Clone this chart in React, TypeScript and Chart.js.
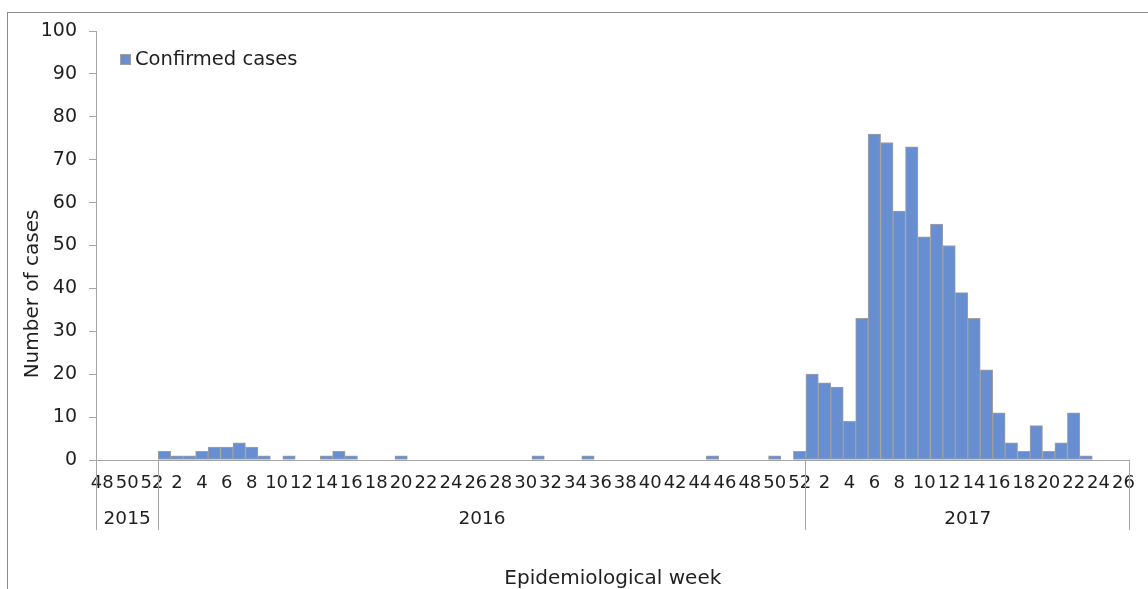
import React, { useEffect, useRef } from 'react';
import { Chart, registerables } from 'chart.js';

Chart.register(...registerables);

// ---- Data ----
const yearLabels = ['2015', '2016', '2017'];

const weeks2015 = ['48', '49', '50', '51', '52'];
const weeks2016 = [
  '1', '2', '3', '4', '5', '6', '7', '8', '9', '10',
  '11', '12', '13', '14', '15', '16', '17', '18', '19', '20',
  '21', '22', '23', '24', '25', '26', '27', '28', '29', '30',
  '31', '32', '33', '34', '35', '36', '37', '38', '39', '40',
  '41', '42', '43', '44', '45', '46', '47', '48', '49', '50',
  '51', '52',
];
const weeks2017 = [
  '1', '2', '3', '4', '5', '6', '7', '8', '9', '10',
  '11', '12', '13', '14', '15', '16', '17', '18', '19', '20',
  '21', '22', '23', '24', '25', '26',
];

const cases2015 = [0, 0, 0, 0, 0];
const cases2016 = [
  2, 1, 1, 2, 3, 3, 4, 3, 1, 0,
  1, 0, 0, 1, 2, 1, 0, 0, 0, 1,
  0, 0, 0, 0, 0, 0, 0, 0, 0, 0,
  1, 0, 0, 0, 1, 0, 0, 0, 0, 0,
  0, 0, 0, 0, 1, 0, 0, 0, 0, 1,
  0, 2,
];
const cases2017 = [
  20, 18, 17, 9, 33, 76, 74, 58, 73, 52,
  55, 50, 39, 33, 21, 11, 4, 2, 8, 2,
  4, 11, 1, 0, 0, 0,
];

const yearWeeks = [weeks2015, weeks2016, weeks2017];
const weekLabels = [...weeks2015, ...weeks2016, ...weeks2017];
const confirmedCases = [...cases2015, ...cases2016, ...cases2017];

const seriesLabel = 'Confirmed cases';
const yTitle = 'Number of cases';
const xTitle = 'Epidemiological week';
const yMin = 0;
const yMax = 100;
const yStep = 10;

// ---- Style ----
const FONT = '"DejaVu Sans", Verdana, sans-serif';
const TEXT = '#1f1f1f';
const AXIS = '#A6A6A6';
const BAR = 'rgb(103,142,208)';
const BAR_BORDER = 'rgb(160,160,160)';

const align = (p: number) => Math.round(p - 0.5) + 0.5;

const decorPlugin = {
  id: 'decor',
  beforeDraw(chart: any) {
    const ctx = chart.ctx;
    ctx.save();
    ctx.strokeStyle = '#8C8C8C';
    ctx.lineWidth = 1;
    ctx.strokeRect(7.5, 12.5, 1400, 900);
    ctx.restore();
  },
  afterDraw(chart: any) {
    const ctx = chart.ctx;
    const xs = chart.scales.x;
    const area = chart.chartArea;
    const half = (xs.getPixelForValue(1) - xs.getPixelForValue(0)) / 2;

    ctx.save();
    // Year groups
    ctx.font = `18.5px ${FONT}`;
    ctx.fillStyle = TEXT;
    ctx.textAlign = 'center';
    ctx.textBaseline = 'middle';
    const edges: number[] = [];
    let start = 0;
    yearWeeks.forEach((wk, i) => {
      const left = xs.getPixelForValue(start) - half;
      const right = xs.getPixelForValue(start + wk.length - 1) + half;
      if (!edges.some((e) => Math.abs(e - left) < 0.5)) edges.push(left);
      edges.push(right);
      ctx.fillText(yearLabels[i], (left + right) / 2, area.bottom + 59);
      start += wk.length;
    });
    ctx.strokeStyle = AXIS;
    ctx.lineWidth = 1;
    edges.forEach((e) => {
      ctx.beginPath();
      ctx.moveTo(align(e), area.bottom);
      ctx.lineTo(align(e), area.bottom + 70);
      ctx.stroke();
    });

    // Y title
    ctx.save();
    ctx.translate(33, 294);
    ctx.rotate(-Math.PI / 2);
    ctx.font = `20px ${FONT}`;
    ctx.fillStyle = TEXT;
    ctx.textAlign = 'center';
    ctx.textBaseline = 'middle';
    ctx.fillText(yTitle, 0, 0);
    ctx.restore();

    // Legend
    ctx.fillStyle = BAR;
    ctx.fillRect(120, 54, 11, 11);
    ctx.strokeStyle = BAR_BORDER;
    ctx.strokeRect(120.5, 54.5, 10, 10);
    ctx.font = `19.5px ${FONT}`;
    ctx.fillStyle = TEXT;
    ctx.textAlign = 'left';
    ctx.textBaseline = 'middle';
    ctx.fillText(seriesLabel, 135, 60);
    ctx.restore();
  },
};

export default function App() {
  const canvasRef = useRef<HTMLCanvasElement | null>(null);

  useEffect(() => {
    if (!canvasRef.current) return;
    const chart = new Chart(canvasRef.current, {
      type: 'bar',
      data: {
        labels: weekLabels,
        datasets: [
          {
            label: seriesLabel,
            data: confirmedCases,
            backgroundColor: BAR,
            borderColor: BAR_BORDER,
            borderWidth: 1,
            borderSkipped: false,
            barPercentage: 1,
            categoryPercentage: 1,
          },
        ],
      },
      options: {
        animation: false,
        responsive: true,
        maintainAspectRatio: false,
        layout: { padding: { left: 0, top: 31, right: 17, bottom: 0 } },
        plugins: {
          legend: { display: false },
          tooltip: { enabled: false },
        },
        scales: {
          x: {
            type: 'category',
            offset: true,
            grid: { display: false, drawTicks: false },
            border: { display: true, color: AXIS, width: 1 },
            ticks: {
              autoSkip: false,
              maxRotation: 0,
              minRotation: 0,
              padding: 13,
              color: TEXT,
              font: { family: FONT, size: 18 },
              callback: (_v: any, i: number) =>
                Number(weekLabels[i]) % 2 === 0 ? weekLabels[i] : '',
            },
            title: {
              display: true,
              text: xTitle,
              color: TEXT,
              padding: 0,
              font: { family: FONT, size: 20, lineHeight: 1 },
            },
            afterFit: (s: any) => {
              s.height = 129;
            },
          },
          y: {
            min: yMin,
            max: yMax,
            grid: {
              display: true,
              drawOnChartArea: false,
              drawTicks: true,
              tickLength: 7,
              color: AXIS,
            },
            border: { display: true, color: AXIS, width: 1 },
            ticks: {
              stepSize: yStep,
              padding: 12,
              color: TEXT,
              font: { family: FONT, size: 19 },
            },
            afterFit: (s: any) => {
              s.width = 96;
            },
          },
        },
      },
      plugins: [decorPlugin],
    } as any);
    return () => chart.destroy();
  }, []);

  return (
    <div style={{ position: 'fixed', left: 0, top: 0, width: 1148, height: 589, background: '#fff' }}>
      <canvas ref={canvasRef} />
    </div>
  );
}
